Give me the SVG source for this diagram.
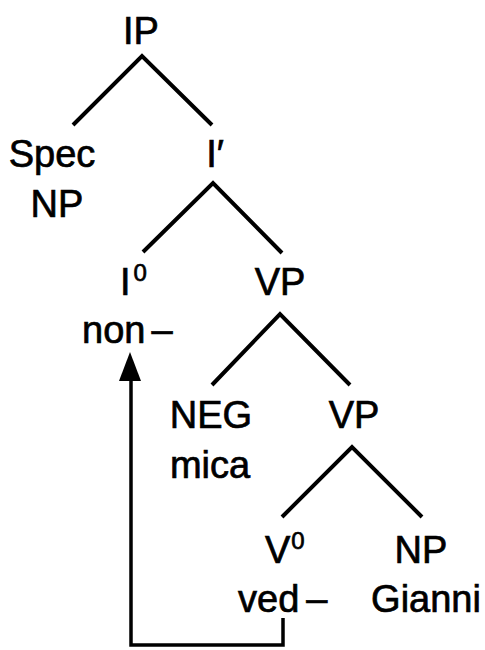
<svg xmlns="http://www.w3.org/2000/svg" width="485" height="650" viewBox="0 0 485 650">
<defs>
<style>
text{font-family:"Liberation Sans",Arial,sans-serif;font-size:38px;fill:#000;stroke:#000;stroke-width:0.7}
.m{text-anchor:middle}
.sup{font-size:24px}
.edge{stroke:#000;stroke-width:4;fill:none;stroke-linecap:butt}
.mv{stroke:#000;stroke-width:3.5;fill:none}
</style>
</defs>
<rect width="485" height="650" fill="#fff"/>
<g id="connectors">
<path class="edge" d="M73,125 L142,56 L212,125"/>
<path class="edge" d="M143,252 L213,183 L282,253"/>
<path class="edge" d="M212,385 L280,314 L350,385"/>
<path class="edge" d="M282,517 L352,447 L422,517"/>
<path class="mv" d="M283,618 L283,645 L131,645 L131,380"/>
<path d="M130,352 L119,381 L141,381 Z" fill="#000"/>
</g>
<g id="IP"><text class="m" x="141" y="44">IP</text></g>
<g id="SpecNP"><text class="m" x="52" y="167">Spec</text><text class="m" x="57" y="217">NP</text></g>
<g id="Ibar"><text class="m" x="215" y="167">I′</text></g>
<g id="I0"><text x="120" y="295">I<tspan class="sup" dx="3" dy="-14">0</tspan></text><text x="82" y="343">non<tspan dx="6">–</tspan></text></g>
<g id="VP1"><text class="m" x="280" y="295">VP</text></g>
<g id="NEG"><text class="m" x="211" y="428">NEG</text><text class="m" x="210" y="478">mica</text></g>
<g id="VP2"><text class="m" x="354" y="428">VP</text></g>
<g id="V0"><text x="265" y="563">V<tspan class="sup" dx="1" dy="-14">0</tspan></text><text x="238" y="612">ved<tspan dx="7">–</tspan></text></g>
<g id="NP"><text class="m" x="421" y="563">NP</text><text class="m" x="426" y="612">Gianni</text></g>
</svg>
